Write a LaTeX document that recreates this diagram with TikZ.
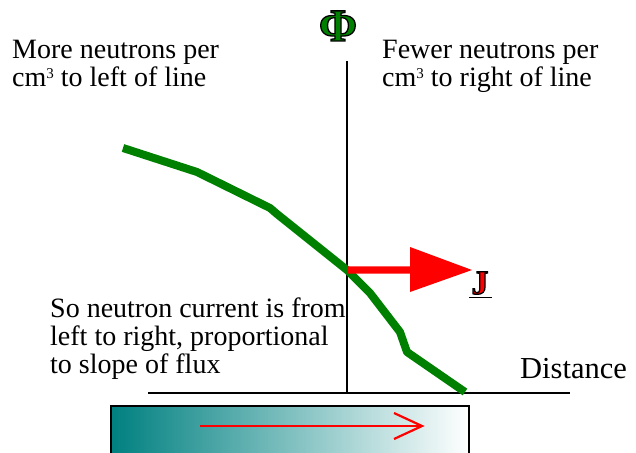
\documentclass[tikz,border=0pt]{standalone}
\usepackage{fontspec}
\setmainfont{Liberation Serif}
\newcommand\outlinedtext[3]{{\color{#2}\special{pdf:code 2 Tr 1.3 w #1 RG}#3\special{pdf:code 0 Tr}}}
\newcommand\cubed{\raisebox{8pt}{\fontsize{15}{15}\selectfont 3}}
\definecolor{curvegreen}{RGB}{0,128,0}
\definecolor{tealbox}{RGB}{0,128,128}
\tikzset{
  lbl/.style={anchor=base west, inner sep=0pt, font=\fontsize{28}{28}\selectfont},
  axis/.style={line width=1.5pt, black},
  flux/.style={line width=8pt, curvegreen, line join=round},
}
\begin{document}
\begin{tikzpicture}[x=1pt,y=-1pt]
\useasboundingbox (0,0) rectangle (636,452);
% texts
\node[lbl] (l1) at (12,58) {More neutrons per};
\node[lbl] (l2) at (12,86) {cm\cubed{} to left of line};
\node[lbl] (r1) at (382,58) {Fewer neutrons per};
\node[lbl] (r2) at (382,86) {cm\cubed{} to right of line};
\node[lbl] (s1) at (50,317) {So neutron current is from};
\node[lbl] (s2) at (50,345) {left to right, proportional};
\node[lbl] (s3) at (50,373) {to slope of flux};
\node[lbl, font=\fontsize{30.5}{31}\selectfont] (dist) at (520,378) {Distance};
\node[inner sep=0pt, anchor=base] (phi) at (338,41) {\fontsize{46}{46}\selectfont\bfseries\outlinedtext{0 0 0}{curvegreen}{Φ}};
% axes
\coordinate (vtop) at (347,61);
\coordinate (vbot) at (347,393);
\coordinate (hl) at (148,393);
\coordinate (hr) at (570,393);
\draw[axis] (vtop) -- (vbot);
\draw[axis] (hl) -- (hr);
% flux curve
\draw[flux] (123,148) -- (197,172) -- (270,208) -- (277,214) -- (347,270)
  -- (370,293) -- (400,332) -- (407,352) -- (465,392);
% current arrow
\coordinate (js) at (347,270);
\fill[red] (js) ++(0,-3.7) -- (410,266.3) -- (410,247) -- (472,270) -- (410,292)
  -- (410,273.7) -- (347,273.7) -- cycle;
\node[inner sep=0pt, anchor=base] (J) at (480,294) {\fontsize{34}{34}\selectfont\bfseries\outlinedtext{0 0 0}{red}{J}};
\draw[line width=1.5pt] (469,297.5) -- (492,297.5);
% gradient box
\shade[left color=tealbox, right color=white] (111,406) rectangle (469,454);
\draw[line width=2pt] (111,454) -- (111,406) -- (469,406) -- (469,454);
\coordinate (ba) at (200,426);
\coordinate (bb) at (422,426);
\draw[red, line width=1.5pt] (ba) -- (bb);
\draw[red, line width=2.2pt, line join=miter] (394,413) -- (bb) -- (394,439);
\end{tikzpicture}
\end{document}
